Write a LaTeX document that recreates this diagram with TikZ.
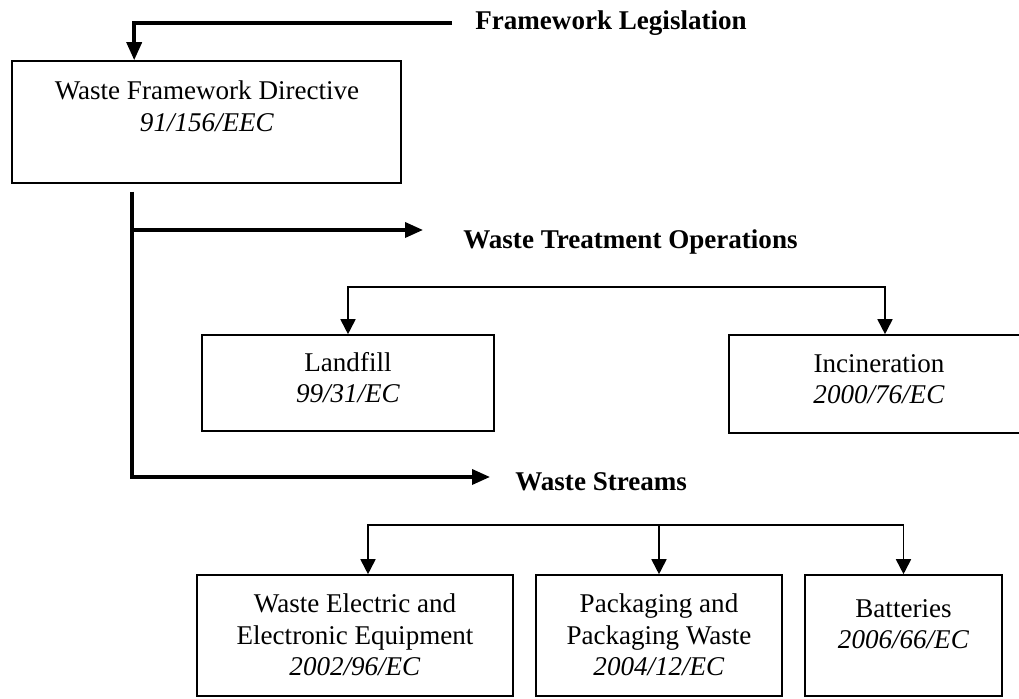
\documentclass[tikz,border=0pt]{standalone}
\usepackage{fontspec}
\setmainfont{Liberation Serif}
\usetikzlibrary{arrows.meta}

\begin{document}
\begin{tikzpicture}[
    font=\fontsize{15.4}{18}\selectfont,
    box/.style={draw, line width=0.9pt, inner sep=0pt},
    txt/.style={align=center, inner sep=0pt},
    head/.style={font=\fontsize{15.4}{18}\selectfont\bfseries, inner sep=0pt, anchor=west},
    heavy/.style={line width=2pt, -{Triangle[length=0.36cm,width=0.3cm]}},
    thin/.style={line width=1pt, -{Triangle[length=0.3cm,width=0.3cm]}},
    fork/.style={line width=1pt, {Triangle[length=0.3cm,width=0.3cm]}-{Triangle[length=0.3cm,width=0.3cm]}}
  ]
  \useasboundingbox (0,0) rectangle (20.38,13.98);
  \node[head] (fl) at (9.5,13.52) {Framework Legislation};
  \node[box, minimum width=7.78cm, minimum height=2.44cm] (wfd) at (4.13,11.54) {};
  \node[txt] (wfdtxt) at (4.14,11.86) {Waste Framework Directive\\\textit{91/156/EEC}};
  \node[head] (wto) at (9.26,9.14) {Waste Treatment Operations};
  \node[box, minimum width=5.84cm, minimum height=1.92cm] (lf) at (6.96,6.32) {};
  \node[txt] (lftxt) at (6.96,6.43) {Landfill\\\textit{99/31/EC}};
  \node[box, minimum width=6.0cm, minimum height=1.96cm] (inc) at (17.58,6.30) {};
  \node[txt] (inctxt) at (17.58,6.40) {Incineration\\\textit{2000/76/EC}};
  \node[head] (wso) at (10.30,4.34) {Waste Streams};
  \node[box, minimum width=6.32cm, minimum height=2.42cm] (weee) at (7.10,1.27) {};
  \node[txt] (weeetxt) at (7.10,1.28) {Waste Electric and\\Electronic Equipment\\\textit{2002/96/EC}};
  \node[box, minimum width=4.92cm, minimum height=2.42cm] (pack) at (13.18,1.27) {};
  \node[txt] (packtxt) at (13.18,1.28) {Packaging and\\Packaging Waste\\\textit{2004/12/EC}};
  \node[box, minimum width=3.94cm, minimum height=2.42cm] (bat) at (18.07,1.27) {};
  \node[txt] (battxt) at (18.07,1.50) {Batteries\\\textit{2006/66/EC}};
  \coordinate (trunk) at (2.64,10.14);
  \coordinate (split1) at (12.3,8.24);
  \coordinate (split2) at (13.18,3.48);
  \begin{scope}
    \draw[heavy] ([xshift=-0.46cm]fl.west) -| ([xshift=2.46cm]wfd.north west);
    \draw[heavy] (trunk) |- ([xshift=-0.8cm,yshift=0.24cm]wto.west);
    \draw[heavy] (trunk) |- ([xshift=-0.5cm,yshift=0.1cm]wso.west);
    \draw[fork] (lf.north) |- (split1) -| ([xshift=0.12cm]inc.north);
    \draw[fork] ([xshift=0.26cm]weee.north) |- (split2) -| (bat.north);
    \draw[thin] (split2) -- (pack.north);
  \end{scope}
\end{tikzpicture}
\end{document}
